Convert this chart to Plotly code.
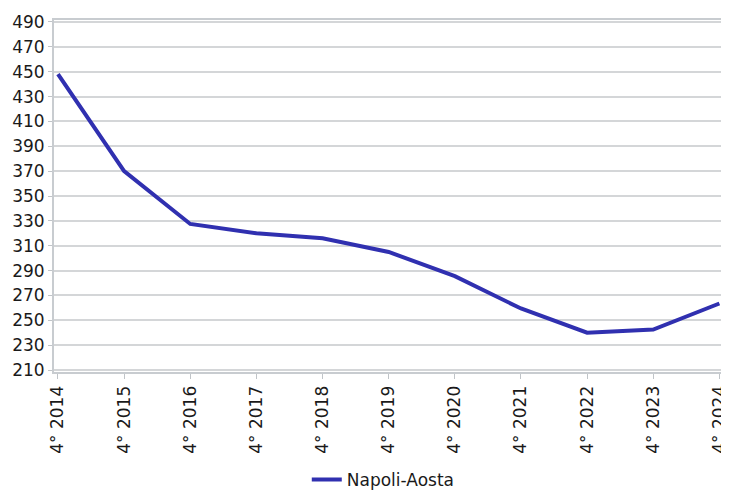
import plotly.graph_objects as go

categories = ["4° 2014", "4° 2015", "4° 2016", "4° 2017", "4° 2018", "4° 2019",
              "4° 2020", "4° 2021", "4° 2022", "4° 2023", "4° 2024"]
values = [448, 370, 327.5, 320, 316, 305, 285.5, 259.5, 240, 242.5, 263.5]
y_ticks = list(range(210, 491, 20))
series_name = "Napoli-Aosta"

FAMILY = "DejaVu Sans, Liberation Sans, Arial, sans-serif"

fig = go.Figure()
fig.add_trace(go.Scatter(
    x=categories, y=values, mode="lines", name=series_name,
    line=dict(color="#3030b0", width=4),
))

# the page body adds an 8px offset, so the figure is sized to fit the window
fig.update_layout(
    width=721, height=483,
    margin=dict(l=46, r=3, t=12, b=119, autoexpand=False),
    paper_bgcolor="white", plot_bgcolor="white",
    font=dict(family=FAMILY, size=17, color="#1a1a1a"),
    showlegend=True,
    legend=dict(orientation="h", x=0.49, xanchor="center", y=-0.307, yanchor="middle",
                font=dict(family=FAMILY, size=17, color="#1a1a1a")),
)
fig.update_xaxes(
    type="category", range=[-0.06, 10.1], tickangle=-90,
    showgrid=False, ticks="outside", ticklen=5, tickcolor="#c0c4c8",
    showline=True, linecolor="#c8ccd0", linewidth=2, mirror=True,
    tickfont=dict(size=17), zeroline=False, automargin=False,
)
fig.update_yaxes(
    range=[208.4, 491.6], tickvals=y_ticks, ticktext=[str(v) for v in y_ticks],
    showgrid=True, gridcolor="#d4d6d8", gridwidth=1.5,
    ticks="outside", ticklen=4, tickcolor="#c0c4c8",
    showline=True, linecolor="#c8ccd0", linewidth=2, mirror=True,
    tickfont=dict(size=17), zeroline=False, automargin=False,
)

fig.write_html("out.html")
